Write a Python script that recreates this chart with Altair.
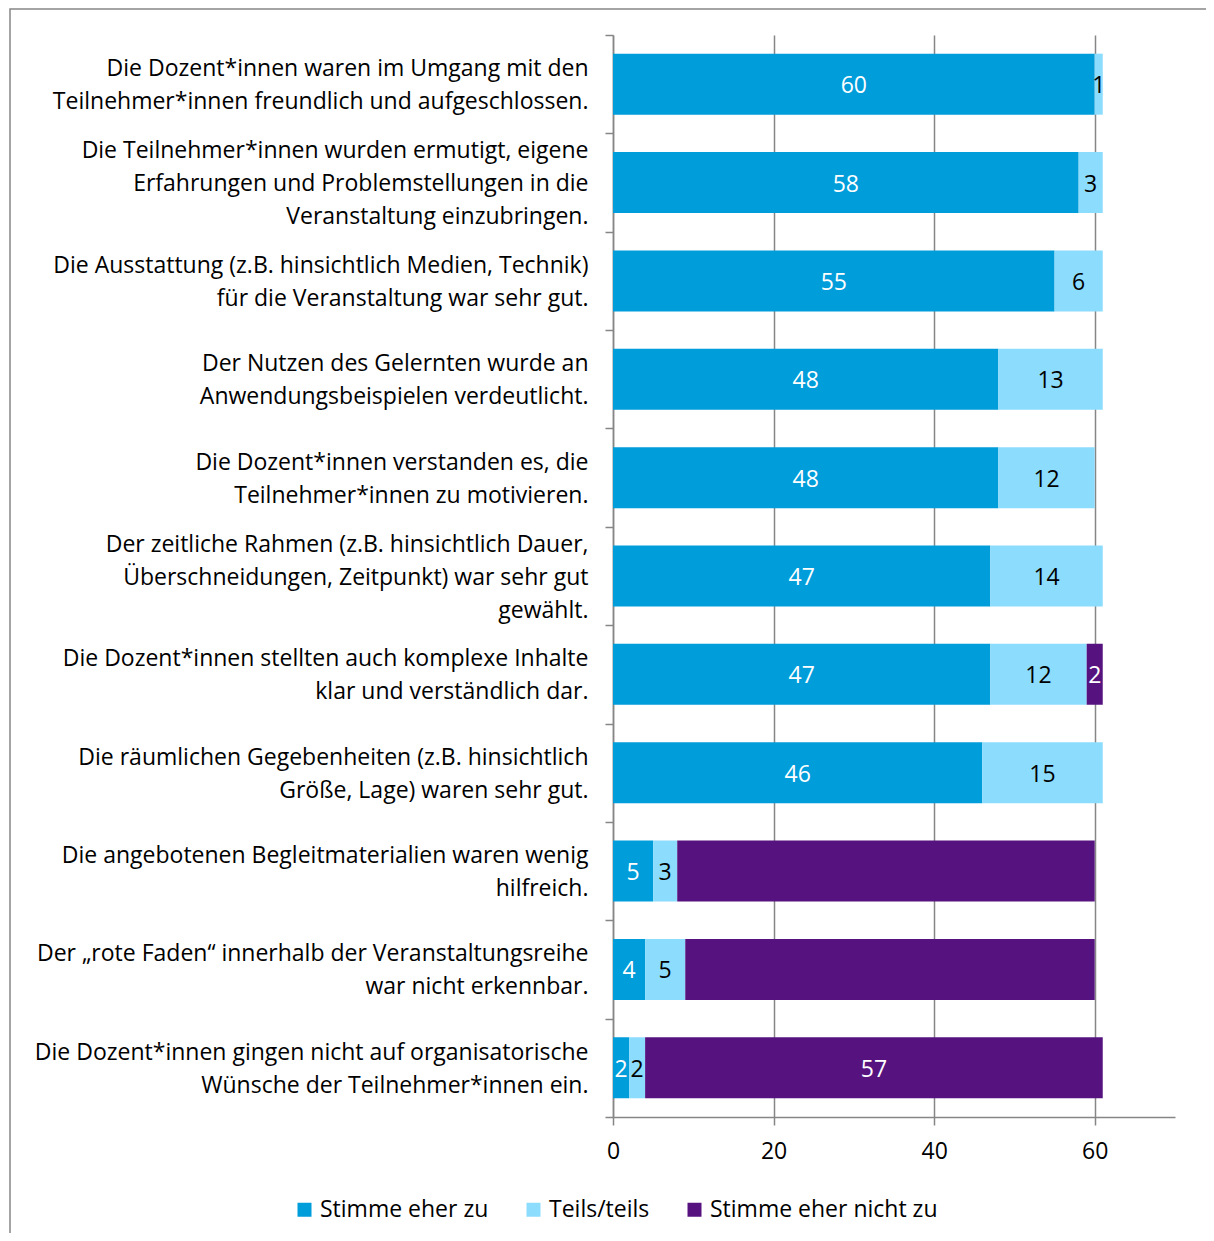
import altair as alt
import pandas as pd

statements = [
    "Die Dozent*innen waren im Umgang mit den|Teilnehmer*innen freundlich und aufgeschlossen.",
    "Die Teilnehmer*innen wurden ermutigt, eigene|Erfahrungen und Problemstellungen in die|Veranstaltung einzubringen.",
    "Die Ausstattung (z.B. hinsichtlich Medien, Technik)|für die Veranstaltung war sehr gut.",
    "Der Nutzen des Gelernten wurde an|Anwendungsbeispielen verdeutlicht.",
    "Die Dozent*innen verstanden es, die|Teilnehmer*innen zu motivieren.",
    "Der zeitliche Rahmen (z.B. hinsichtlich Dauer,|Überschneidungen, Zeitpunkt) war sehr gut|gewählt.",
    "Die Dozent*innen stellten auch komplexe Inhalte|klar und verständlich dar.",
    "Die räumlichen Gegebenheiten (z.B. hinsichtlich|Größe, Lage) waren sehr gut.",
    "Die angebotenen Begleitmaterialien waren wenig|hilfreich.",
    "Der „rote Faden“ innerhalb der Veranstaltungsreihe|war nicht erkennbar.",
    "Die Dozent*innen gingen nicht auf organisatorische|Wünsche der Teilnehmer*innen ein.",
]
series = ["Stimme eher zu", "Teils/teils", "Stimme eher nicht zu"]
agree = [60, 58, 55, 48, 48, 47, 47, 46, 5, 4, 2]
partly = [1, 3, 6, 13, 12, 14, 12, 15, 3, 5, 2]
disagree = [0, 0, 0, 0, 0, 0, 2, 0, 52, 51, 57]
# labels shown in the original (purple labels hidden for two rows)
show_disagree = [False, False, False, False, False, False, True, False, False, False, True]
colors = ["#009DDB", "#8CDCFE", "#561380"]
text_colors = ["white", "black", "white"]
x_ticks = [0, 20, 40, 60]

rows = []
for i, s in enumerate(statements):
    vals = [agree[i], partly[i], disagree[i]]
    start = 0
    for k, v in enumerate(vals):
        if v > 0:
            rows.append({
                "statement": s, "series": series[k], "order": k, "value": v,
                "x0": start, "x1": start + v, "mid": start + v / 2,
                "show": (k < 2) or show_disagree[i], "tcolor": text_colors[k],
            })
        start += v
df = pd.DataFrame(rows)

FONT = "Open Sans"
FS = 23

label_offset = {
    "condition": [
        {"test": "length(split(datum.value, '|')) == 3", "value": -32},
        {"test": "length(split(datum.value, '|')) == 2", "value": -15.5},
    ],
    "value": 1,
}

y_enc = alt.Y("statement:N", sort=statements, title=None,
              scale=alt.Scale(paddingInner=0, paddingOuter=0),
              axis=alt.Axis(labelExpr="split(datum.label, '|')", labelAlign="right",
                            labelFontSize=FS, labelFont=FONT, labelColor="black",
                            labelLineHeight=33, labelPadding=17, tickSize=8,
                            tickBand="extent", domainColor="#868686", tickColor="#868686",
                            labelLimit=600, grid=False, labelOffset=label_offset))

bars = alt.Chart(df).mark_bar(size=61).encode(
    y=y_enc,
    x=alt.X("x0:Q", title=None, scale=alt.Scale(domain=[0, 70], nice=False),
            axis=alt.Axis(values=x_ticks, labelFontSize=FS, labelFont=FONT, labelColor="black",
                          labelPadding=15, tickSize=8, domainColor="#868686", tickColor="#868686",
                          labelFlush=False,
                          grid=True, gridColor="#868686", gridWidth=1.5)),
    x2="x1:Q",
    color=alt.Color("series:N", sort=series,
                    scale=alt.Scale(domain=series, range=colors),
                    legend=alt.Legend(title=None, orient="none", direction="horizontal",
                                      legendX=-320, legendY=1163, symbolType="square",
                                      symbolSize=196, symbolStrokeWidth=0, labelFontSize=FS,
                                      labelFont=FONT, labelColor="black", labelOffset=4,
                                      labelLimit=500, columnPadding=33)),
    order=alt.Order("order:Q"),
)

labels = alt.Chart(df).transform_filter("datum.show").mark_text(
    fontSize=FS, font=FONT, baseline="middle", align="center", dy=2
).encode(
    y=alt.Y("statement:N", sort=statements),
    x=alt.X("mid:Q"),
    text=alt.Text("value:Q"),
    color=alt.Color("tcolor:N", scale=None),
)

frame = alt.Chart(alt.Data(values=[{"a": 1}])).mark_rect(
    fill=None, stroke="#868686", strokeWidth=1.5
).encode(
    x=alt.value(-603), x2=alt.value(620), y=alt.value(-26), y2=alt.value(1230)
)

chart = alt.layer(frame, bars, labels).properties(
    width=562, height=1082,
    autosize=alt.AutoSizeParams(type="none"),
    padding={"left": 605, "top": 27, "right": 31, "bottom": 116},
).configure_view(stroke=None).configure_axis(domainWidth=1.5, tickWidth=1.5)

chart.save("out.html", embed_options={"renderer": "svg", "actions": False})
